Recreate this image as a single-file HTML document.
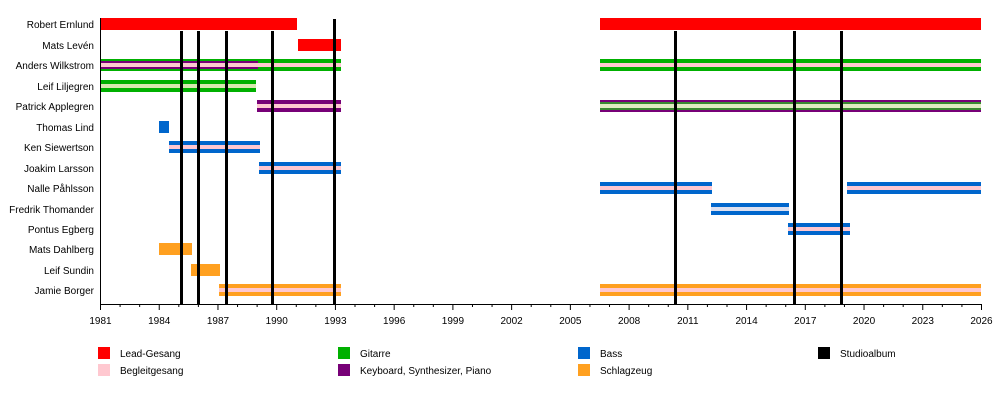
<!DOCTYPE html>
<html><head><style>body{margin:0;background:#fff}svg{display:block}text{font-family:"Liberation Sans",sans-serif;font-size:10px;fill:#000}</style></head><body>
<svg width="1000" height="404" xmlns="http://www.w3.org/2000/svg">
<g text-anchor="end">
<text x="94" y="28">Robert Ernlund</text>
<text x="94" y="49">Mats Levén</text>
<text x="94" y="69">Anders Wilkstrom</text>
<text x="94" y="90">Leif Liljegren</text>
<text x="94" y="110">Patrick Applegren</text>
<text x="94" y="131">Thomas Lind</text>
<text x="94" y="151">Ken Siewertson</text>
<text x="94" y="172">Joakim Larsson</text>
<text x="94" y="192">Nalle Påhlsson</text>
<text x="94" y="213">Fredrik Thomander</text>
<text x="94" y="233">Pontus Egberg</text>
<text x="94" y="253">Mats Dahlberg</text>
<text x="94" y="274">Leif Sundin</text>
<text x="94" y="294">Jamie Borger</text>
</g>
<!-- Robert -->
<rect x="100" y="18" width="197" height="12" fill="#ff0000"/>
<rect x="600" y="18" width="381" height="12" fill="#ff0000"/>
<!-- Mats Leven -->
<rect x="298" y="39" width="43" height="12" fill="#ff0000"/>
<!-- Anders -->
<rect x="100" y="59" width="241" height="12" fill="#00b000"/>
<rect x="100" y="61" width="158" height="8" fill="#770077"/>
<rect x="100" y="63" width="241" height="4" fill="#ffc8d0"/>
<rect x="600" y="59" width="381" height="12" fill="#00b000"/>
<rect x="600" y="63" width="381" height="4" fill="#ffc8d0"/>
<!-- Leif L -->
<rect x="100" y="80" width="156" height="12" fill="#00b000"/>
<rect x="100" y="84" width="156" height="4" fill="#d8e8b0"/>
<!-- Patrick -->
<rect x="257" y="100" width="84" height="12" fill="#770077"/>
<rect x="257" y="104" width="84" height="4" fill="#ffc8d0"/>
<rect x="600" y="100" width="381" height="12" fill="#770077"/>
<rect x="600" y="102" width="381" height="8" fill="#3a8a30"/>
<rect x="600" y="104" width="381" height="4" fill="#e0ecc0"/>
<!-- Thomas -->
<rect x="159" y="121" width="10" height="12" fill="#0066cc"/>
<!-- Ken -->
<rect x="169" y="141" width="91" height="12" fill="#0066cc"/>
<rect x="169" y="145" width="91" height="4" fill="#ffc8d0"/>
<!-- Joakim -->
<rect x="259" y="162" width="82" height="12" fill="#0066cc"/>
<rect x="259" y="166" width="82" height="4" fill="#ffc8d0"/>
<!-- Nalle -->
<rect x="600" y="182" width="112" height="12" fill="#0066cc"/>
<rect x="600" y="186" width="112" height="4" fill="#ffc8d0"/>
<rect x="847" y="182" width="134" height="12" fill="#0066cc"/>
<rect x="847" y="186" width="134" height="4" fill="#ffc8d0"/>
<!-- Fredrik -->
<rect x="711" y="203" width="78" height="12" fill="#0066cc"/>
<rect x="711" y="207" width="78" height="4" fill="#dde0f0"/>
<!-- Pontus -->
<rect x="788" y="223" width="62" height="12" fill="#0066cc"/>
<rect x="788" y="227" width="62" height="4" fill="#ffc8d0"/>
<!-- Mats Dahlberg -->
<rect x="159" y="243" width="33" height="12" fill="#ffa020"/>
<!-- Leif Sundin -->
<rect x="191" y="264" width="29" height="12" fill="#ffa020"/>
<!-- Jamie -->
<rect x="219" y="284" width="122" height="12" fill="#ffa020"/>
<rect x="219" y="288" width="122" height="4" fill="#ffc8d0"/>
<rect x="600" y="284" width="381" height="12" fill="#ffa020"/>
<rect x="600" y="288" width="381" height="4" fill="#ffc8d0"/>
<!-- album lines -->
<g stroke="#000" stroke-width="3">
<line x1="181.5" y1="31" x2="181.5" y2="304"/>
<line x1="198.5" y1="31" x2="198.5" y2="304"/>
<line x1="226.5" y1="31" x2="226.5" y2="304"/>
<line x1="272.5" y1="31" x2="272.5" y2="304"/>
<line x1="334.5" y1="19" x2="334.5" y2="304"/>
<line x1="675.5" y1="31" x2="675.5" y2="304"/>
<line x1="794.5" y1="31" x2="794.5" y2="304"/>
<line x1="841.5" y1="31" x2="841.5" y2="304"/>
</g>
<!-- axes -->
<g stroke="#000" stroke-width="1">
<line x1="100.5" y1="18" x2="100.5" y2="304"/>
<line x1="100" y1="304.5" x2="982" y2="304.5"/>
</g>
<g id="ticks" stroke="#000" stroke-width="1"></g>
<g id="lbl" text-anchor="middle"></g>
<!-- legend -->
<rect x="98" y="347" width="12" height="12" fill="#ff0000"/><text x="120" y="357">Lead-Gesang</text>
<rect x="98" y="364" width="12" height="12" fill="#ffc8d0"/><text x="120" y="374">Begleitgesang</text>
<rect x="338" y="347" width="12" height="12" fill="#00b000"/><text x="360" y="357">Gitarre</text>
<rect x="338" y="364" width="12" height="12" fill="#770077"/><text x="360" y="374">Keyboard, Synthesizer, Piano</text>
<rect x="578" y="347" width="12" height="12" fill="#0066cc"/><text x="600" y="357">Bass</text>
<rect x="578" y="364" width="12" height="12" fill="#ffa020"/><text x="600" y="374">Schlagzeug</text>
<rect x="818" y="347" width="12" height="12" fill="#000"/><text x="840" y="357">Studioalbum</text>
<script>
var t=document.getElementById('ticks'),l=document.getElementById('lbl'),ns='http://www.w3.org/2000/svg';
for(var y=1981;y<=2026;y++){var x=100.5+(y-1981)*881/45;var m=(y-1981)%3==0;
var e=document.createElementNS(ns,'line');e.setAttribute('x1',x);e.setAttribute('x2',x);e.setAttribute('y1',304);e.setAttribute('y2',m?310:307);t.appendChild(e);
if(m){var s=document.createElementNS(ns,'text');s.setAttribute('x',x);s.setAttribute('y',324);s.textContent=y;l.appendChild(s);}}
</script>
</svg>
</body></html>
